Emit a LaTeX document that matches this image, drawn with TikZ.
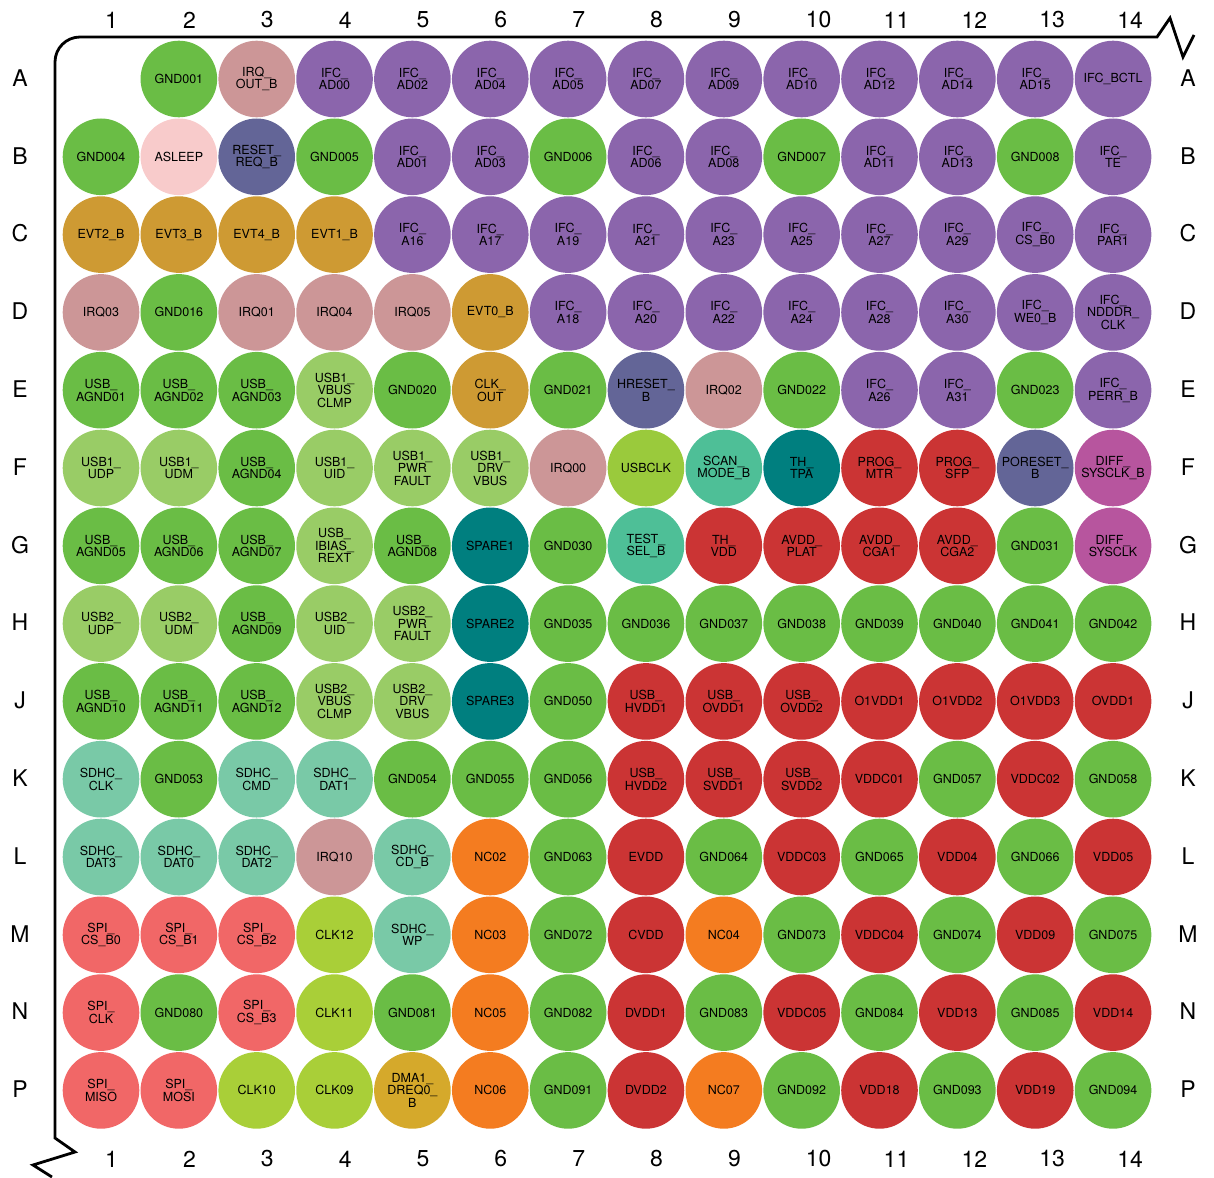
\documentclass[tikz,border=0pt]{standalone}
\usepackage{fontspec}
\setmainfont{TeX Gyre Heros}

\definecolor{gnd}{HTML}{6ABD45}
\definecolor{ifc}{HTML}{8B65AC}
\definecolor{irq}{HTML}{CC9697}
\definecolor{slp}{HTML}{F8CBCB}
\definecolor{rst}{HTML}{636597}
\definecolor{evt}{HTML}{CE9A33}
\definecolor{usb}{HTML}{99CC66}
\definecolor{uclk}{HTML}{9ACA3C}
\definecolor{scan}{HTML}{4EBF97}
\definecolor{th}{HTML}{007F7F}
\definecolor{pwr}{HTML}{CB3434}
\definecolor{diff}{HTML}{B7559E}
\definecolor{sdhc}{HTML}{79C9A7}
\definecolor{nc}{HTML}{F47C20}
\definecolor{spi}{HTML}{F16767}
\definecolor{clk}{HTML}{A9CF38}
\definecolor{dma}{HTML}{D5A92B}

% one row of balls: [first column]{row number}{label/colour, ...}
\newcommand\pinrow[3][1]{%
  \foreach \lbl/\kind [count=\c from #1] in {#3} {
    \node[ball, fill=\kind] (p#2-\c) at ({101+(\c-1)*77.85}, {79+(#2-1)*77.8}) {};
    \node[pinlbl] at (p#2-\c) {\lbl};
  }}

\begin{document}
\begin{tikzpicture}[x=1pt, y=-1pt,
    ball/.style={circle, minimum size=76.6pt, inner sep=0pt},
    pinlbl/.style={align=center, inner sep=0pt, font=\fontsize{12.5}{12.5}\selectfont},
    axis/.style={inner sep=0pt, font=\fontsize{23}{23}\selectfont}]
  \useasboundingbox (0,0) rectangle (1214,1177);

  % outline, broken at both far ends
  \draw[line width=2.8pt, line join=miter]
    (1194,35) -- (1183,57) -- (1170,18) -- (1157,37) -- (80,37)
    arc[start angle=270, end angle=180, radius=25] -- (55,1138)
    -- (75,1152) -- (33,1165) -- (52,1177);

  % column numbers, top and bottom
  \foreach \c in {1,...,14} {
    \node[axis, anchor=west] (ct\c) at ({105+(\c-1)*77.85}, 20) {\c};
    \node[axis, anchor=west] (cb\c) at ({105+(\c-1)*77.85}, 1159) {\c};
  }
  % row letters, left and right
  \foreach \L [count=\r] in {A,B,C,D,E,F,G,H,J,K,L,M,N,P} {
    \node[axis] (rl\r) at (20, {78+(\r-1)*77.8}) {\L};
    \node[axis] (rr\r) at (1188, {78+(\r-1)*77.8}) {\L};
  }

  \pinrow[2]{1}{GND001/gnd, IRQ\_\\OUT\_B/irq, IFC\_\\AD00/ifc, IFC\_\\AD02/ifc,
    IFC\_\\AD04/ifc, IFC\_\\AD05/ifc, IFC\_\\AD07/ifc, IFC\_\\AD09/ifc, IFC\_\\AD10/ifc,
    IFC\_\\AD12/ifc, IFC\_\\AD14/ifc, IFC\_\\AD15/ifc, IFC\_BCTL/ifc}
  \pinrow{2}{GND004/gnd, ASLEEP/slp, RESET\_\\REQ\_B/rst, GND005/gnd, IFC\_\\AD01/ifc,
    IFC\_\\AD03/ifc, GND006/gnd, IFC\_\\AD06/ifc, IFC\_\\AD08/ifc, GND007/gnd,
    IFC\_\\AD11/ifc, IFC\_\\AD13/ifc, GND008/gnd, IFC\_\\TE/ifc}
  \pinrow{3}{EVT2\_B/evt, EVT3\_B/evt, EVT4\_B/evt, EVT1\_B/evt, IFC\_\\A16/ifc,
    IFC\_\\A17/ifc, IFC\_\\A19/ifc, IFC\_\\A21/ifc, IFC\_\\A23/ifc, IFC\_\\A25/ifc,
    IFC\_\\A27/ifc, IFC\_\\A29/ifc, IFC\_\\CS\_B0/ifc, IFC\_\\PAR1/ifc}
  \pinrow{4}{IRQ03/irq, GND016/gnd, IRQ01/irq, IRQ04/irq, IRQ05/irq, EVT0\_B/evt,
    IFC\_\\A18/ifc, IFC\_\\A20/ifc, IFC\_\\A22/ifc, IFC\_\\A24/ifc, IFC\_\\A28/ifc,
    IFC\_\\A30/ifc, IFC\_\\WE0\_B/ifc, IFC\_\\NDDDR\_\\CLK/ifc}
  \pinrow{5}{USB\_\\AGND01/gnd, USB\_\\AGND02/gnd, USB\_\\AGND03/gnd, USB1\_\\VBUS\\CLMP/usb,
    GND020/gnd, CLK\_\\OUT/evt, GND021/gnd, HRESET\_\\B/rst, IRQ02/irq, GND022/gnd,
    IFC\_\\A26/ifc, IFC\_\\A31/ifc, GND023/gnd, IFC\_\\PERR\_B/ifc}
  \pinrow{6}{USB1\_\\UDP/usb, USB1\_\\UDM/usb, USB\_\\AGND04/gnd, USB1\_\\UID/usb,
    USB1\_\\PWR\\FAULT/usb, USB1\_\\DRV\\VBUS/usb, IRQ00/irq, USBCLK/uclk,
    SCAN\_\\MODE\_B/scan, TH\_\\TPA/th, PROG\_\\MTR/pwr, PROG\_\\SFP/pwr,
    PORESET\_\\B/rst, DIFF\_\\SYSCLK\_B/diff}
  \pinrow{7}{USB\_\\AGND05/gnd, USB\_\\AGND06/gnd, USB\_\\AGND07/gnd, USB\_\\IBIAS\_\\REXT/usb,
    USB\_\\AGND08/gnd, SPARE1/th, GND030/gnd, TEST\_\\SEL\_B/scan, TH\_\\VDD/pwr,
    AVDD\_\\PLAT/pwr, AVDD\_\\CGA1/pwr, AVDD\_\\CGA2/pwr, GND031/gnd, DIFF\_\\SYSCLK/diff}
  \pinrow{8}{USB2\_\\UDP/usb, USB2\_\\UDM/usb, USB\_\\AGND09/gnd, USB2\_\\UID/usb,
    USB2\_\\PWR\\FAULT/usb, SPARE2/th, GND035/gnd, GND036/gnd, GND037/gnd, GND038/gnd,
    GND039/gnd, GND040/gnd, GND041/gnd, GND042/gnd}
  \pinrow{9}{USB\_\\AGND10/gnd, USB\_\\AGND11/gnd, USB\_\\AGND12/gnd, USB2\_\\VBUS\\CLMP/usb,
    USB2\_\\DRV\\VBUS/usb, SPARE3/th, GND050/gnd, USB\_\\HVDD1/pwr, USB\_\\OVDD1/pwr,
    USB\_\\OVDD2/pwr, O1VDD1/pwr, O1VDD2/pwr, O1VDD3/pwr, OVDD1/pwr}
  \pinrow{10}{SDHC\_\\CLK/sdhc, GND053/gnd, SDHC\_\\CMD/sdhc, SDHC\_\\DAT1/sdhc, GND054/gnd,
    GND055/gnd, GND056/gnd, USB\_\\HVDD2/pwr, USB\_\\SVDD1/pwr, USB\_\\SVDD2/pwr,
    VDDC01/pwr, GND057/gnd, VDDC02/pwr, GND058/gnd}
  \pinrow{11}{SDHC\_\\DAT3/sdhc, SDHC\_\\DAT0/sdhc, SDHC\_\\DAT2/sdhc, IRQ10/irq,
    SDHC\_\\CD\_B/sdhc, NC02/nc, GND063/gnd, EVDD/pwr, GND064/gnd, VDDC03/pwr,
    GND065/gnd, VDD04/pwr, GND066/gnd, VDD05/pwr}
  \pinrow{12}{SPI\_\\CS\_B0/spi, SPI\_\\CS\_B1/spi, SPI\_\\CS\_B2/spi, CLK12/clk,
    SDHC\_\\WP/sdhc, NC03/nc, GND072/gnd, CVDD/pwr, NC04/nc, GND073/gnd, VDDC04/pwr,
    GND074/gnd, VDD09/pwr, GND075/gnd}
  \pinrow{13}{SPI\_\\CLK/spi, GND080/gnd, SPI\_\\CS\_B3/spi, CLK11/clk, GND081/gnd,
    NC05/nc, GND082/gnd, DVDD1/pwr, GND083/gnd, VDDC05/pwr, GND084/gnd, VDD13/pwr,
    GND085/gnd, VDD14/pwr}
  \pinrow{14}{SPI\_\\MISO/spi, SPI\_\\MOSI/spi, CLK10/clk, CLK09/clk, DMA1\_\\DREQ0\_\\B/dma,
    NC06/nc, GND091/gnd, DVDD2/pwr, NC07/nc, GND092/gnd, VDD18/pwr, GND093/gnd,
    VDD19/pwr, GND094/gnd}
\end{tikzpicture}
\end{document}
